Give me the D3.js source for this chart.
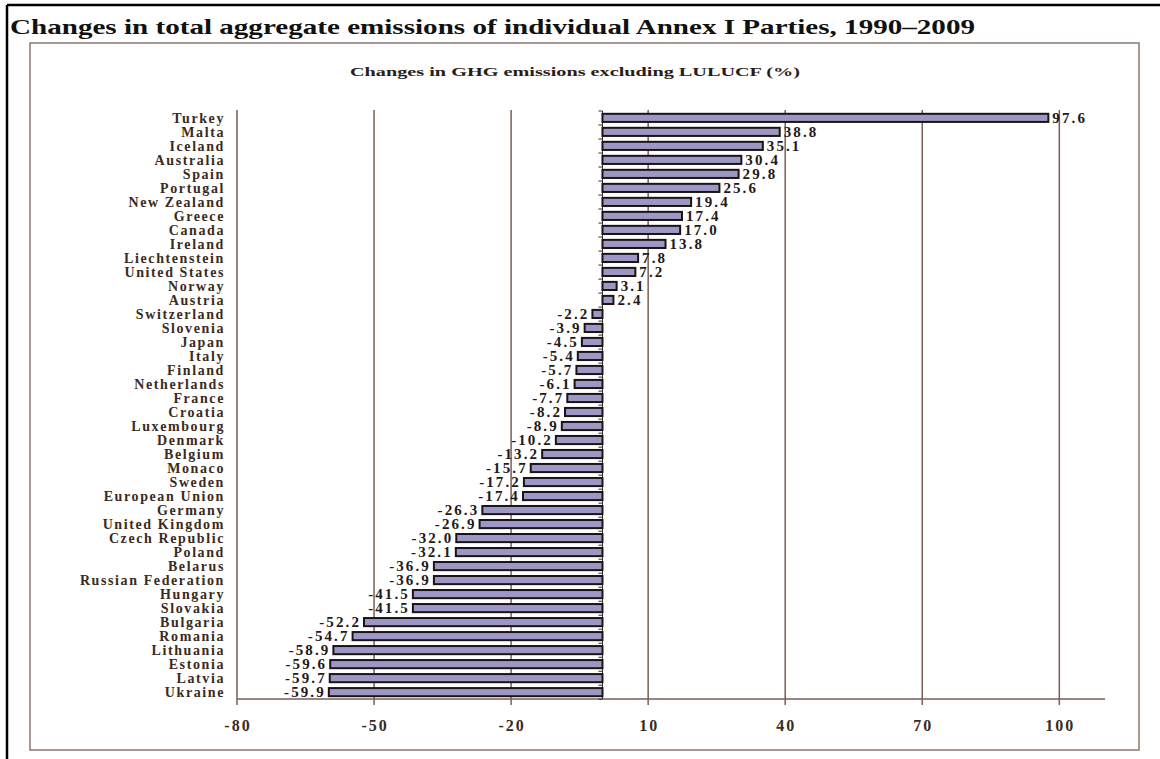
<!DOCTYPE html>
<html>
<head>
<meta charset="utf-8">
<title>Annex I emissions</title>
<script src="https://cdn.jsdelivr.net/npm/d3@7/dist/d3.min.js"></script>
<style>
  body { margin: 0; background: #fff; }
  text { font-family: "Liberation Serif", "Times New Roman", serif; font-weight: bold; }
  .cat { font-size: 14px; fill: #3a2a22; letter-spacing: 1.6px; }
  .val { font-size: 15px; fill: #241818; letter-spacing: 2.1px; }
  .tick-lbl { font-size: 16px; fill: #3a2a22; letter-spacing: 2px; }
</style>
</head>
<body>
<div id="chart"></div>
<script>
// countries, top to bottom
var countries = ["Turkey", "Malta", "Iceland", "Australia", "Spain", "Portugal", "New Zealand",
  "Greece", "Canada", "Ireland", "Liechtenstein", "United States", "Norway", "Austria",
  "Switzerland", "Slovenia", "Japan", "Italy", "Finland", "Netherlands", "France", "Croatia",
  "Luxembourg", "Denmark", "Belgium", "Monaco", "Sweden", "European Union", "Germany",
  "United Kingdom", "Czech Republic", "Poland", "Belarus", "Russian Federation", "Hungary",
  "Slovakia", "Bulgaria", "Romania", "Lithuania", "Estonia", "Latvia", "Ukraine"];

// change in GHG emissions excl. LULUCF, 1990-2009 (%)
var changes = [97.6, 38.8, 35.1, 30.4, 29.8, 25.6, 19.4,
  17.4, 17.0, 13.8, 7.8, 7.2, 3.1, 2.4,
  -2.2, -3.9, -4.5, -5.4, -5.7, -6.1, -7.7, -8.2,
  -8.9, -10.2, -13.2, -15.7, -17.2, -17.4, -26.3,
  -26.9, -32.0, -32.1, -36.9, -36.9, -41.5,
  -41.5, -52.2, -54.7, -58.9, -59.6, -59.7, -59.9];

var xTicks = [-80, -50, -20, 10, 40, 70, 100];

var W = 1160, H = 759;

var svg = d3.select("#chart").append("svg")
  .attr("width", W)
  .attr("height", H);

// page frame bits (scan edges)
svg.append("line").attr("x1", 7).attr("x2", W).attr("y1", 5).attr("y2", 5)
  .attr("stroke", "#000").attr("stroke-width", 2.5);
svg.append("line").attr("x1", 7).attr("x2", 7).attr("y1", 5).attr("y2", H)
  .attr("stroke", "#000").attr("stroke-width", 2.5);

// title
svg.append("text")
  .attr("x", 10).attr("y", 34)
  .attr("font-size", 21)
  .attr("fill", "#111")
  .attr("textLength", 965)
  .attr("lengthAdjust", "spacingAndGlyphs")
  .text("Changes in total aggregate emissions of individual Annex I Parties, 1990\u20132009");

// chart box
svg.append("rect")
  .attr("x", 30).attr("y", 43)
  .attr("width", 1109).attr("height", 707)
  .attr("fill", "none")
  .attr("stroke", "#8a7870")
  .attr("stroke-width", 1.5);

svg.append("text")
  .attr("x", 575).attr("y", 76)
  .attr("text-anchor", "middle")
  .attr("font-size", 13)
  .attr("fill", "#2a1c16")
  .attr("textLength", 450)
  .attr("lengthAdjust", "spacingAndGlyphs")
  .text("Changes in GHG emissions excluding LULUCF (%)");

var x = d3.scaleLinear().domain([-80, 110]).range([237, 1105]);
var y = d3.scaleBand().domain(countries).range([111, 699]).paddingInner(0.42).paddingOuter(0.2);

var data = countries.map(function(c, i) { return { name: c, value: changes[i] }; });

// vertical gridlines (extend a little below the axis as ticks)
svg.selectAll(".grid")
  .data(xTicks)
  .enter()
  .append("line")
  .attr("class", "grid")
  .attr("x1", function(d) { return x(d); })
  .attr("x2", function(d) { return x(d); })
  .attr("y1", 110)
  .attr("y2", 705)
  .attr("stroke", "#7a5e54")
  .attr("stroke-width", 1.5);

// x axis line
svg.append("line")
  .attr("x1", x(-80)).attr("x2", x(110))
  .attr("y1", 699).attr("y2", 699)
  .attr("stroke", "#7a5e54")
  .attr("stroke-width", 1.5);

svg.selectAll(".tick-lbl")
  .data(xTicks)
  .enter()
  .append("text")
  .attr("class", "tick-lbl")
  .attr("x", function(d) { return x(d) + 1; })
  .attr("y", 731)
  .attr("text-anchor", "middle")
  .text(function(d) { return d; });

// category axis at zero with small ticks on band edges
var step = y.step();
svg.append("line")
  .attr("x1", x(0)).attr("x2", x(0))
  .attr("y1", 111).attr("y2", 699)
  .attr("stroke", "#3a2a22")
  .attr("stroke-width", 1);

svg.selectAll(".ytick")
  .data(d3.range(countries.length + 1))
  .enter()
  .append("line")
  .attr("class", "ytick")
  .attr("x1", x(0) - 4).attr("x2", x(0))
  .attr("y1", function(i) { return 111 + i * step; })
  .attr("y2", function(i) { return 111 + i * step; })
  .attr("stroke", "#3a2a22")
  .attr("stroke-width", 1);

// bars
svg.selectAll(".bar")
  .data(data)
  .enter()
  .append("rect")
  .attr("class", "bar")
  .attr("x", function(d) { return x(Math.min(0, d.value)); })
  .attr("y", function(d) { return y(d.name); })
  .attr("width", function(d) { return Math.abs(x(d.value) - x(0)); })
  .attr("height", y.bandwidth())
  .attr("fill", "#9d97c6")
  .attr("stroke", "#1c1414")
  .attr("stroke-width", 2);

// value labels
svg.selectAll(".val")
  .data(data)
  .enter()
  .append("text")
  .attr("class", "val")
  .attr("x", function(d) { return d.value >= 0 ? x(d.value) + 4 : x(d.value) - 3; })
  .attr("y", function(d) { return y(d.name) + y.bandwidth() / 2 + 5; })
  .attr("text-anchor", function(d) { return d.value >= 0 ? "start" : "end"; })
  .text(function(d) { return d.value.toFixed(1); });

// category labels
svg.selectAll(".cat")
  .data(data)
  .enter()
  .append("text")
  .attr("class", "cat")
  .attr("x", 225)
  .attr("y", function(d) { return y(d.name) + y.bandwidth() / 2 + 5; })
  .attr("text-anchor", "end")
  .text(function(d) { return d.name; });
</script>
</body>
</html>
